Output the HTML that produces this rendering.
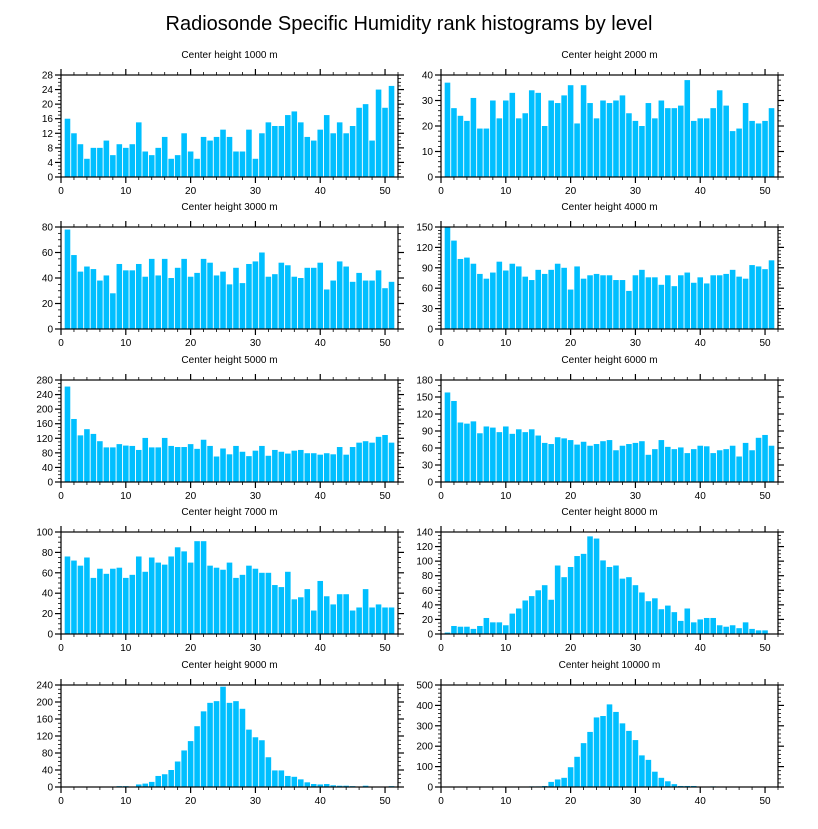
<!DOCTYPE html>
<html><head><meta charset="utf-8"><style>
html,body{margin:0;padding:0;background:#fff;}
svg text{font-family:"Liberation Sans",sans-serif;fill:#000;}
</style></head><body>
<svg id="chart" width="818" height="824" viewBox="0 0 818 824" xmlns="http://www.w3.org/2000/svg">
<text x="409" y="30" font-size="20" text-anchor="middle">Radiosonde Specific Humidity rank histograms by level</text>
</svg>
<script>
const panelTitles=["Center height 1000 m","Center height 2000 m","Center height 3000 m","Center height 4000 m","Center height 5000 m","Center height 6000 m","Center height 7000 m","Center height 8000 m","Center height 9000 m","Center height 10000 m"];
const h1000=[16,12,9,5,8,8,10,6,9,8,9,15,7,6,8,11,5,6,12,7,5,11,10,11,13,11,7,7,13,5,12,15,14,14,17,18,15,11,10,13,17,12,15,12,14,19,20,10,24,19,25];
const h2000=[37,27,24,22,31,19,19,30,23,30,33,23,25,34,33,20,30,29,32,36,21,36,29,23,30,29,30,32,25,22,20,29,23,30,27,27,28,38,22,23,23,27,34,28,18,19,29,22,21,22,27];
const h3000=[78,58,45,49,47,38,42,28,51,46,46,51,41,55,42,55,40,48,55,41,44,55,52,42,45,35,48,36,51,53,60,41,43,52,50,41,40,48,48,52,31,38,53,49,37,44,38,38,46,32,37];
const h4000=[150,130,103,105,96,81,74,83,99,86,96,92,77,72,87,81,87,96,90,58,92,74,79,81,79,79,72,72,56,79,87,76,76,65,79,63,79,83,68,76,67,79,79,81,87,77,74,94,92,88,101];
const h5000=[262,173,128,145,132,112,95,95,104,100,99,88,121,95,95,121,99,96,96,104,91,116,99,70,92,76,99,83,71,86,99,72,88,83,78,86,88,79,79,75,79,76,96,75,96,108,112,108,124,129,108];
const h6000=[158,143,105,103,107,86,98,96,88,98,85,93,88,93,82,69,67,79,77,74,66,71,64,67,72,74,56,64,67,69,72,48,58,74,62,58,61,51,58,64,63,51,56,58,64,45,69,56,78,83,64];
const h7000=[76,72,67,75,55,64,59,64,65,55,58,76,61,75,70,68,76,85,81,70,91,91,67,65,63,70,55,58,67,64,60,60,48,46,61,34,36,44,23,52,37,29,39,39,23,26,44,26,29,26,26];
const h8000=[2,11,10,10,7,11,22,16,16,12,28,35,46,52,60,67,47,94,78,92,107,110,134,131,101,92,94,76,78,67,57,45,49,34,39,30,18,35,16,20,22,22,12,10,12,8,16,7,5,5,0];
const h9000=[0,0,0,0,0,0,0,0,2,2,1,6,8,12,26,30,40,60,86,108,143,178,198,202,236,198,202,184,135,117,110,70,39,39,26,24,18,11,7,6,7,4,3,3,2,1,3,1,1,1,2];
const h10000=[0,0,0,0,0,0,0,0,0,0,0,0,0,3,3,5,25,37,45,97,148,215,270,341,348,405,368,312,275,230,155,133,75,45,28,14,5,5,5,2,1,3,0,0,0,0,0,0,0,0,0];
const yMax=[28,40,80,150,280,180,100,140,240,500];
const yStep=[4,10,20,30,40,30,20,20,40,100];
const yMinor=[1,2,5,5,10,10,5,5,10,20];
const xTicks=[0,10,20,30,40,50];
const series=[h1000,h2000,h3000,h4000,h5000,h6000,h7000,h8000,h9000,h10000];

const svg=document.getElementById('chart');
const NS="http://www.w3.org/2000/svg";
function mk(tag,attrs,parent){const e=document.createElementNS(NS,tag);for(const k in attrs)e.setAttribute(k,attrs[k]);(parent||svg).appendChild(e);return e;}
const colX=[61,441],W=337,rowY=[75,227,380,532,685],H=102,XMAX=52;
series.forEach((vals,p)=>{
  const x0=colX[p%2],y0=rowY[Math.floor(p/2)];
  const g=mk('g',{});
  
  
  const sx=v=>x0+v/XMAX*W, sy=v=>y0+H-v/yMax[p]*H;
  const t=mk('text',{x:x0+W/2,y:y0-17,'font-size':10,'text-anchor':'middle'},g);
  t.textContent=panelTitles[p];
  
  
  const bw=W/XMAX*0.86;
  vals.forEach((v,i)=>{
    if(v<=0)return;
    const b=mk('rect',{x:sx(i+1)-bw/2,y:sy(Math.min(v,yMax[p])),width:bw,height:sy(0)-sy(Math.min(v,yMax[p])),fill:'#00BFFF'},g);
    
    
  });
  const fr=mk('rect',{x:x0,y:y0,width:W,height:H,fill:'none',stroke:'#000','stroke-width':1.2},g);
  
  
  // x ticks
  for(let v=0;v<=XMAX;v+=2){
    const maj=v%10===0,L=maj?6:3,x=sx(v);
    mk('line',{x1:x,x2:x,y1:y0+H,y2:y0+H+L,stroke:'#000','stroke-width':maj?1.2:0.8},g);
    mk('line',{x1:x,x2:x,y1:y0,y2:y0-L,stroke:'#000','stroke-width':maj?1.2:0.8},g);
  }
  xTicks.forEach(v=>{
    const l=mk('text',{x:sx(v),y:y0+H+17,'font-size':10,'text-anchor':'middle'},g);
    l.textContent=v;
    
    
  });
  for(let v=0;v<=yMax[p]+1e-9;v+=yMinor[p]){
    const maj=Math.abs(v/yStep[p]-Math.round(v/yStep[p]))<1e-6,L=maj?6:3,y=sy(v);
    mk('line',{x1:x0,x2:x0-L,y1:y,y2:y,stroke:'#000','stroke-width':maj?1.2:0.8},g);
    mk('line',{x1:x0+W,x2:x0+W+L,y1:y,y2:y,stroke:'#000','stroke-width':maj?1.2:0.8},g);
  }
  for(let v=0;v<=yMax[p]+1e-9;v+=yStep[p]){
    const l=mk('text',{x:x0-8,y:sy(v)+3.5,'font-size':10,'text-anchor':'end'},g);
    l.textContent=v;
    
    
  }
});
</script>
</body></html>
